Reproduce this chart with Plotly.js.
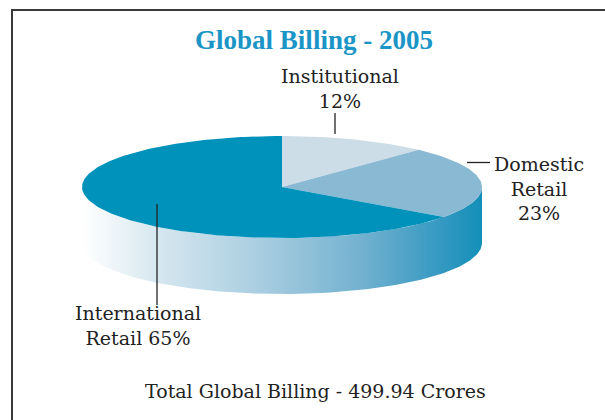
<!DOCTYPE html>
<html>
<head>
<meta charset="utf-8">
<script src="https://cdn.plot.ly/plotly-3.0.1.min.js"></script>
<style>html,body{margin:0;padding:0;background:#fff;}#chart{width:605px;height:420px;}</style>
</head>
<body>
<div id="chart"></div>
<script>
// ---- data ----
const categories = ['Institutional', 'Domestic Retail', 'International Retail'];
const values = [12, 23, 65];
const labelLines = [['Institutional', '{v}%'], ['Domestic', 'Retail', '{v}%'], ['International', 'Retail {v}%']];
const sliceColors = ['#cddde8', '#8ab9d3', '#0092bb'];
const totalBilling = 499.94;
const titleText = 'Global Billing - 2005';

// ---- geometry (pixel-like units, y axis reversed) ----
const CX = 282, CY = 187, RX = 200, RY = 51, DEPTH = 56;
function pt(deg, dy) {
  const r = deg * Math.PI / 180;
  return [CX + RX * Math.sin(r), CY - RY * Math.cos(r) + (dy || 0)];
}

const traces = [];
// side (front half)
const sx = [], sy = [];
for (let a = 90; a <= 270; a += 1) { const p = pt(a); sx.push(p[0]); sy.push(p[1]); }
for (let a = 270; a >= 90; a -= 1) { const p = pt(a, DEPTH); sx.push(p[0]); sy.push(p[1]); }
traces.push({
  type: 'scatter', mode: 'lines', x: sx, y: sy, fill: 'toself',
  line: {width: 0, color: 'rgba(0,0,0,0)'},
  fillgradient: {type: 'horizontal', colorscale: [[0, '#ffffff'], [0.2, '#d4e6ef'], [0.45, '#a8cde0'], [0.7, '#72b1cf'], [0.88, '#3a9bc3'], [1, '#138fb8']]},
  hoverinfo: 'skip', showlegend: false
});

// top slices
const total = values.reduce((s, v) => s + v, 0);
let start = 0;
values.forEach((v, i) => {
  const a0 = start / total * 360, a1 = (start + v) / total * 360;
  const xs = [CX], ys = [CY];
  const n = Math.max(2, Math.ceil(a1 - a0));
  for (let k = 0; k <= n; k++) { const p = pt(a0 + (a1 - a0) * k / n); xs.push(p[0]); ys.push(p[1]); }
  xs.push(CX); ys.push(CY);
  traces.push({
    type: 'scatter', mode: 'lines', x: xs, y: ys, fill: 'toself',
    fillcolor: sliceColors[i], line: {width: 0, color: sliceColors[i]},
    name: categories[i], hoverinfo: 'skip', showlegend: false
  });
  start += v;
});

function lbl(i) { return labelLines[i].map(s => s.replace('{v}', values[i])).join('<br>'); }

const txtFont = {family: 'DejaVu Serif', size: 19, color: '#222'};
const layout = {
  width: 605, height: 420,
  margin: {l: 0, r: 0, t: 0, b: 0},
  paper_bgcolor: '#fff', plot_bgcolor: '#fff',
  xaxis: {range: [0, 605], visible: false, fixedrange: true},
  yaxis: {range: [420, 0], visible: false, fixedrange: true},
  title: {text: '<b>' + titleText + '</b>', x: 314 / 605, y: 1 - 40 / 420, xanchor: 'center', yanchor: 'middle', xref: 'paper', yref: 'paper',
          font: {family: 'Liberation Serif', size: 27, color: '#1b95c6'}},
  shapes: [
    {type: 'rect', xref: 'x', yref: 'y', x0: 12, y0: 10, x1: 640, y1: 460, line: {color: '#3a3a3a', width: 2}, layer: 'below'},
    {type: 'line', xref: 'x', yref: 'y', x0: 335, y0: 113, x1: 335, y1: 134, line: {color: '#222', width: 1.3}},
    {type: 'line', xref: 'x', yref: 'y', x0: 467, y0: 162.5, x1: 490, y1: 162.5, line: {color: '#222', width: 1.3}},
    {type: 'line', xref: 'x', yref: 'y', x0: 157, y0: 204, x1: 157, y1: 305, line: {color: '#222', width: 1.3}}
  ],
  annotations: [
    {x: 340, y: 88, xref: 'x', yref: 'y', text: lbl(0), showarrow: false, font: txtFont, align: 'center', xanchor: 'center', yanchor: 'middle'},
    {x: 539, y: 188, xref: 'x', yref: 'y', text: lbl(1), showarrow: false, font: txtFont, align: 'center', xanchor: 'center', yanchor: 'middle'},
    {x: 138, y: 325, xref: 'x', yref: 'y', text: lbl(2), showarrow: false, font: txtFont, align: 'center', xanchor: 'center', yanchor: 'middle'},
    {x: 315, y: 391, xref: 'x', yref: 'y', text: 'Total Global Billing - ' + totalBilling + ' Crores', showarrow: false, font: txtFont, xanchor: 'center', yanchor: 'middle'}
  ]
};
Plotly.newPlot('chart', traces, layout, {staticPlot: true, displayModeBar: false});
</script>
</body>
</html>
